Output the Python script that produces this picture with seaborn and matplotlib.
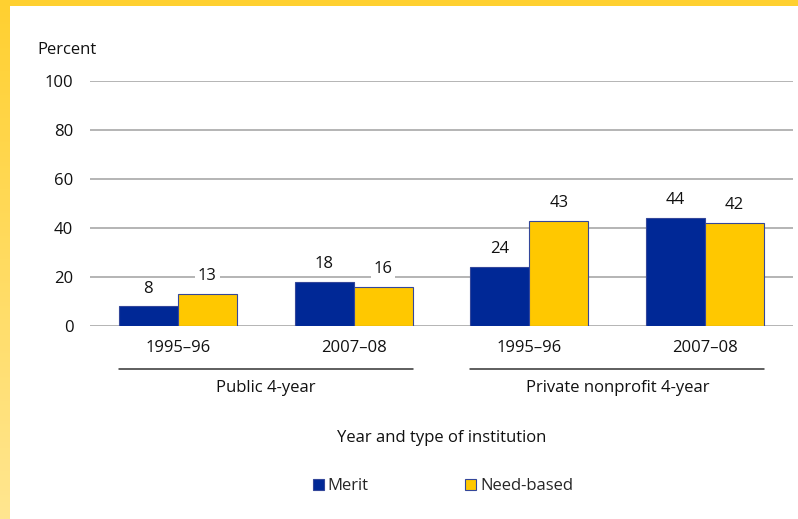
import matplotlib
matplotlib.use("Agg")
import matplotlib.pyplot as plt
import matplotlib.transforms as mtransforms
from matplotlib.colors import LinearSegmentedColormap
from matplotlib.patches import Rectangle
import numpy as np
import pandas as pd
import seaborn as sns

# data
sectors = ["Public 4-year", "Public 4-year", "Private nonprofit 4-year", "Private nonprofit 4-year"]
years = ["1995–96", "2007–08", "1995–96", "2007–08"]
merit = [8, 18, 24, 44]
need_based = [13, 16, 43, 42]

sns.set_theme(style="white")
plt.rcParams["font.family"] = ["Open Sans", "DejaVu Sans"]
FS = 12

keys = [f"{s} {y}" for s, y in zip(sectors, years)]
df = pd.DataFrame({
    "key": keys * 2,
    "pct": merit + need_based,
    "aid": ["Merit"] * 4 + ["Need-based"] * 4,
})

fig = plt.figure(figsize=(7.98, 5.19), dpi=100)
fig.patch.set_facecolor("white")
ax = fig.add_axes([90 / 798, 1 - 326 / 519, 703 / 798, 245 / 519])

sns.barplot(data=df, x="key", y="pct", hue="aid", order=keys,
            palette={"Merit": "#002896", "Need-based": "#FFC800"},
            width=0.67, gap=0, edgecolor="#34479A", linewidth=0.8,
            saturation=1, ax=ax)

ax.set_ylim(0, 100)
ax.set_xlim(-0.5, 3.5)
ax.set_yticks(range(0, 101, 20))
ax.set_xticks(range(4))
ax.set_xticklabels(years)
ax.set_xlabel("")
ax.set_ylabel("")
ax.yaxis.grid(True, color="#A8A8A8", linewidth=1.2)
ax.set_axisbelow(True)
for sp in ax.spines.values():
    sp.set_visible(False)
ax.tick_params(axis="y", length=0, pad=12, labelsize=FS, labelcolor="#111111")
ax.tick_params(axis="x", length=0, pad=10, labelsize=FS, labelcolor="#111111")

for cont in ax.containers:
    ax.bar_label(cont, fmt="%d", padding=7, fontsize=FS, color="#111111",
                 bbox=dict(facecolor="white", edgecolor="none", pad=2))

# sector brackets under the year labels
trans = mtransforms.blended_transform_factory(ax.transData, ax.transAxes)
half = 0.335
for start, name in [(0, "Public 4-year"), (2, "Private nonprofit 4-year")]:
    ax.plot([start - half, start + 1 + half], [-0.1755, -0.1755], transform=trans,
            color="#333333", linewidth=1.1, clip_on=False)
    ax.text(start + 0.5, -0.255, name, transform=trans, ha="center", va="center",
            fontsize=FS, color="#111111")

fig.text(37 / 798, 1 - 50 / 519, "Percent", ha="left", va="center", fontsize=FS, color="#111111")
fig.text(441.5 / 798, 1 - 438 / 519, "Year and type of institution", ha="center", va="center",
         fontsize=FS, color="#111111")

handles, labels = ax.get_legend_handles_labels()
ax.get_legend().remove()
fig.legend(handles, labels, loc="center", bbox_to_anchor=(443 / 798, 1 - 486 / 519),
           ncol=2, frameon=False, fontsize=FS, handlelength=0.65, handleheight=0.65,
           handletextpad=0.25, columnspacing=5.8)

# yellow frame on the left and top
cmap = LinearSegmentedColormap.from_list("frame", ["#FFD030", "#FFE690"])
side = fig.add_axes([0, 0, 10 / 798, 1])
side.imshow(np.linspace(0, 1, 256).reshape(-1, 1), aspect="auto", cmap=cmap)
side.set_axis_off()
fig.patches.append(Rectangle((0, 1 - 6 / 519), 1, 6 / 519, transform=fig.transFigure,
                             facecolor="#FFD030", edgecolor="none"))

fig.savefig("out.png", dpi=100)
